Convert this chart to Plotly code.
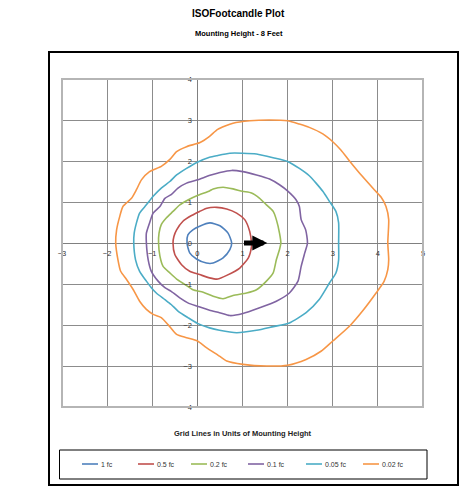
import plotly.graph_objects as go

labels = ["1 fc", "0.5 fc", "0.2 fc", "0.1 fc", "0.05 fc", "0.02 fc"]
colors = ["#4F81BD", "#C0504D", "#9BBB59", "#8064A2", "#4BACC6", "#F79646"]

fc1_x = [0.76, 0.68, 0.50, 0.28, 0.05, -0.10, -0.21, -0.23, -0.17, -0.02, 0.20, 0.35, 0.57, 0.72, 0.76]
fc1_y = [0, 0.24, 0.42, 0.49, 0.41, 0.32, 0.20, 0, -0.24, -0.39, -0.49, -0.49, -0.36, -0.16, 0]

fc05_x = [1.20, 1.16, 1.05, 0.87, 0.65, 0.43, 0.21, 0.05, -0.13, -0.32, -0.46, -0.52, -0.54,
          -0.50, -0.35, -0.17, 0.05, 0.27, 0.45, 0.65, 0.94, 1.13, 1.20, 1.20]
fc05_y = [0, 0.28, 0.57, 0.73, 0.83, 0.87, 0.85, 0.77, 0.67, 0.53, 0.32, 0.16, 0,
          -0.28, -0.53, -0.69, -0.77, -0.85, -0.88, -0.79, -0.61, -0.36, -0.08, 0]

fc02_x = [1.85, 1.82, 1.75, 1.68, 1.53, 1.38, 1.20, 1.00, 0.79, 0.57, 0.35, 0.27, 0, -0.21, -0.39,
          -0.54, -0.69, -0.80, -0.85, -0.86,
          -0.83, -0.76, -0.61, -0.46, -0.28, -0.10, 0.13, 0.35, 0.57, 0.79, 1.09, 1.31, 1.53, 1.68,
          1.75, 1.82, 1.85]
fc02_y = [0, 0.24, 0.57, 0.77, 0.93, 1.09, 1.22, 1.26, 1.32, 1.36, 1.32, 1.27, 1.16, 1.05, 0.93,
          0.77, 0.61, 0.45, 0.24, 0,
          -0.32, -0.57, -0.73, -0.88, -1.01, -1.14, -1.20, -1.30, -1.36, -1.28, -1.22, -1.14, -0.93, -0.73,
          -0.41, -0.16, 0]

fc01_x = [2.44, 2.40, 2.30, 2.26, 2.19, 2.01, 1.82, 1.60, 1.31, 1.01, 0.76, 0.50, 0.28, 0, -0.24,
          -0.43, -0.58, -0.72, -0.83, -0.98, -1.06, -1.13, -1.13,
          -1.09, -1.02, -0.87, -0.72, -0.58, -0.39, -0.21, 0, 0.27, 0.49, 0.72, 1.01, 1.38, 1.75,
          2.04, 2.23, 2.30, 2.38, 2.44]
fc01_y = [0, 0.32, 0.57, 0.89, 1.05, 1.26, 1.42, 1.56, 1.66, 1.74, 1.77, 1.72, 1.65, 1.54, 1.46,
          1.34, 1.18, 1.09, 0.89, 0.73, 0.49, 0.24, 0,
          -0.41, -0.69, -0.93, -1.09, -1.18, -1.34, -1.46, -1.54, -1.64, -1.70, -1.77, -1.72, -1.58, -1.42,
          -1.22, -0.93, -0.57, -0.24, 0]

fc005_x = [3.13, 3.13, 3.07, 2.93, 2.78, 2.63, 2.48, 2.26, 2.00, 1.68, 1.31, 1.00, 0.72, 0.43, 0.27,
           0, -0.24, -0.46, -0.61, -0.80, -0.98, -1.13, -1.28, -1.35, -1.40, -1.41,
           -1.37, -1.28, -1.13, -1.02, -0.91, -0.72, -0.58, -0.43, -0.21, 0, 0.27, 0.49, 0.87, 1.31,
           1.68, 2.04, 2.41, 2.70, 2.93, 3.07, 3.13, 3.13]
fc005_y = [0, 0.49, 0.77, 1.01, 1.26, 1.46, 1.64, 1.82, 1.99, 2.08, 2.17, 2.19, 2.19, 2.13, 2.09,
           1.97, 1.82, 1.66, 1.50, 1.34, 1.14, 0.93, 0.73, 0.49, 0.24, 0,
           -0.41, -0.69, -0.93, -1.09, -1.22, -1.38, -1.50, -1.66, -1.82, -1.96, -2.07, -2.13, -2.19, -2.13,
           -2.04, -1.95, -1.70, -1.38, -0.97, -0.73, -0.41, 0]

fc002_x = [4.22, 4.24, 4.18, 4.07, 3.92, 3.66, 3.38, 3.18, 3.00, 2.78, 2.48, 2.26, 2.00, 1.60, 1.16,
           0.79, 0.45, 0.27, 0.06, -0.24, -0.46, -0.61, -0.80, -1.06, -1.24, -1.35, -1.46, -1.65,
           -1.72, -1.79, -1.81,
           -1.76, -1.70, -1.57, -1.42, -1.28, -1.13, -0.98, -0.80, -0.65, -0.46, -0.24, 0, 0.20, 0.49,
           0.65, 1.01, 1.53, 2.00, 2.41, 2.74, 3.00, 3.37, 3.66, 3.96, 4.14, 4.22, 4.24, 4.22]
fc002_y = [0, 0.57, 0.89, 1.12, 1.30, 1.62, 1.99, 2.27, 2.47, 2.66, 2.82, 2.90, 2.98, 3.00, 2.98,
           2.92, 2.77, 2.60, 2.45, 2.35, 2.23, 2.04, 1.87, 1.74, 1.54, 1.30, 1.09, 0.89,
           0.65, 0.32, 0,
           -0.41, -0.69, -0.89, -1.14, -1.42, -1.62, -1.74, -1.82, -1.99, -2.23, -2.31, -2.39, -2.55, -2.76,
           -2.88, -2.96, -3.00, -2.98, -2.84, -2.64, -2.39, -2.03, -1.66, -1.22, -0.93, -0.65, -0.41, 0]

series_x = [fc1_x, fc05_x, fc02_x, fc01_x, fc005_x, fc002_x]
series_y = [fc1_y, fc05_y, fc02_y, fc01_y, fc005_y, fc002_y]

x_ticks = [-3, -2, -1, 0, 1, 2, 3, 4, 5]
y_ticks = [-4, -3, -2, -1, 0, 1, 2, 3, 4]

arrow_start = (1.0, 0.0)
arrow_end = (1.55, 0.0)

fig = go.Figure()
for name, c, xs, ys in zip(labels, colors, series_x, series_y):
    fig.add_trace(go.Scatter(x=xs, y=ys, mode="lines", name=name, showlegend=False,
                             line=dict(color=c, width=1.6, shape="spline", smoothing=0.6)))

font_main = "Liberation Sans, Arial, sans-serif"

fig.update_layout(
    width=466, height=488,
    margin=dict(l=62, r=43, t=79, b=81, autoexpand=False),
    paper_bgcolor="white", plot_bgcolor="white",
    font=dict(family=font_main, size=7, color="#333333"),
    showlegend=False,
    xaxis=dict(range=[-3, 5], tickvals=x_ticks, showgrid=True, gridcolor="#8c8c8c", gridwidth=1,
               zeroline=True, zerolinecolor="#808080", zerolinewidth=1.2,
               anchor="free", position=0.5, showline=False, ticks="outside", ticklen=3,
               tickcolor="rgba(0,0,0,0)",
               tickfont=dict(size=7.5, color="#333333")),
    yaxis=dict(range=[-4, 4], tickvals=y_ticks, showgrid=True, gridcolor="#8c8c8c", gridwidth=1,
               zeroline=True, zerolinecolor="#808080", zerolinewidth=1.2,
               anchor="free", position=0.375, showline=False, ticks="outside", ticklen=4,
               tickcolor="rgba(0,0,0,0)",
               tickfont=dict(size=7.5, color="#333333")),
)

W, H = 361.0, 328.0
def px2paper_x(px):
    return (px - 62) / W
def px2paper_y(py):
    return (407 - py) / H

shapes = [
    dict(type="rect", xref="paper", yref="paper", x0=0, x1=1, y0=0, y1=1,
         line=dict(color="#b5b5b5", width=2)),
    dict(type="rect", xref="paper", yref="paper",
         x0=px2paper_x(49), x1=px2paper_x(458), y0=px2paper_y(485), y1=px2paper_y(52),
         line=dict(color="black", width=2)),
    dict(type="rect", xref="paper", yref="paper",
         x0=px2paper_x(59.5), x1=px2paper_x(427), y0=px2paper_y(479), y1=px2paper_y(450),
         line=dict(color="black", width=1)),
]

legend_x_px = [82, 138, 191, 248, 306, 363]
legend_y_px = 464
for lbl, c, lx in zip(labels, colors, legend_x_px):
    shapes.append(dict(type="line", xref="paper", yref="paper",
                       x0=px2paper_x(lx), x1=px2paper_x(lx + 16),
                       y0=px2paper_y(legend_y_px), y1=px2paper_y(legend_y_px),
                       line=dict(color=c, width=1.6)))
    fig.add_annotation(text=lbl, xref="paper", yref="paper", x=px2paper_x(lx + 17),
                       y=px2paper_y(legend_y_px), xanchor="left", yanchor="middle",
                       showarrow=False, font=dict(size=7, color="#333333", family=font_main))
fig.update_layout(shapes=shapes)

fig.add_annotation(x=arrow_end[0], y=arrow_end[1], ax=arrow_start[0], ay=arrow_start[1],
                   xref="x", yref="y", axref="x", ayref="y", text="", showarrow=True,
                   arrowhead=2, arrowsize=0.6, arrowwidth=5, arrowcolor="black")

fig.add_annotation(text="<b>ISOFootcandle Plot</b>", xref="paper", yref="paper",
                   x=px2paper_x(238.5), y=px2paper_y(13), xanchor="center", yanchor="middle",
                   showarrow=False, font=dict(size=10, color="black", family=font_main))
fig.add_annotation(text="<b>Mounting Height - 8 Feet</b>", xref="paper", yref="paper",
                   x=px2paper_x(238.5), y=px2paper_y(33), xanchor="center", yanchor="middle",
                   showarrow=False, font=dict(size=7.5, color="black", family=font_main))
fig.add_annotation(text="<b>Grid Lines in Units of Mounting Height</b>", xref="paper", yref="paper",
                   x=px2paper_x(243), y=px2paper_y(433), xanchor="center", yanchor="middle",
                   showarrow=False, font=dict(size=7.5, color="#222222", family=font_main))

fig.write_html("out.html", config={"displayModeBar": False},
               post_script="document.body.style.margin='0px';")
